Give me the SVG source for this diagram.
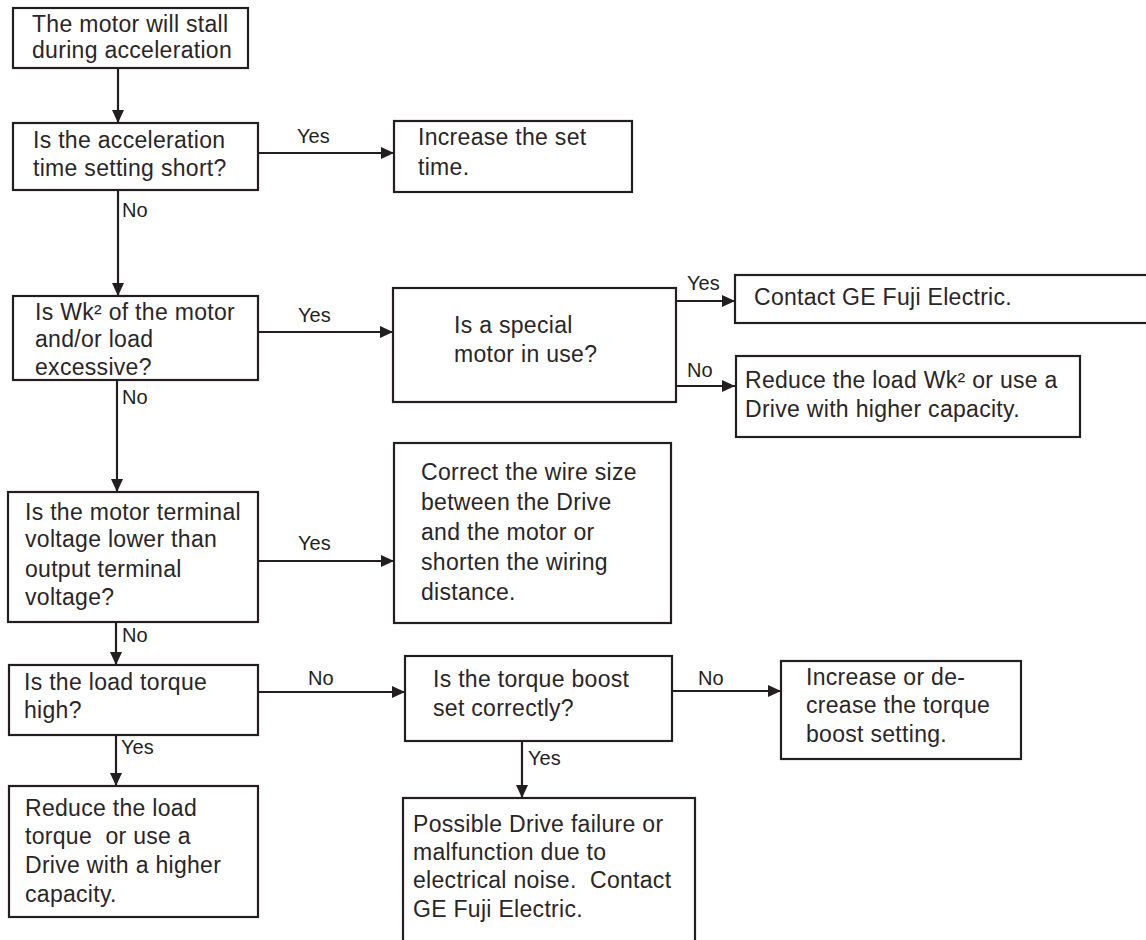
<svg xmlns="http://www.w3.org/2000/svg" width="1146" height="940" viewBox="0 0 1146 940">
<style>
.box{fill:#fff;stroke:#231f20;stroke-width:2.2}
.t{font-family:"Liberation Sans",Arial,sans-serif;font-size:23px;fill:#2a2627;letter-spacing:0.3px;white-space:pre}
.lbl{font-family:"Liberation Sans",Arial,sans-serif;font-size:20px;fill:#231f20}
.c{fill:none;stroke:#231f20;stroke-width:2.2}
</style>
<defs>
<marker id="ah" markerUnits="userSpaceOnUse" markerWidth="13" markerHeight="12" refX="13" refY="6" orient="auto">
<path d="M0,0 L13,6 L0,12 z" fill="#231f20"/>
</marker>
</defs>
<rect width="1146" height="940" fill="#fff"/>
<g id="connectors">
<path class="c" d="M118,68 V123" marker-end="url(#ah)"/>
<path class="c" d="M258,153 H394" marker-end="url(#ah)"/>
<path class="c" d="M118,190 V296" marker-end="url(#ah)"/>
<path class="c" d="M258,332 H393" marker-end="url(#ah)"/>
<path class="c" d="M676,301 H735" marker-end="url(#ah)"/>
<path class="c" d="M676,386 H735" marker-end="url(#ah)"/>
<path class="c" d="M117,380 V492" marker-end="url(#ah)"/>
<path class="c" d="M258,561 H394" marker-end="url(#ah)"/>
<path class="c" d="M116,622 V665" marker-end="url(#ah)"/>
<path class="c" d="M258,692 H405" marker-end="url(#ah)"/>
<path class="c" d="M672,691 H781" marker-end="url(#ah)"/>
<path class="c" d="M116,735 V786" marker-end="url(#ah)"/>
<path class="c" d="M522,741 V798" marker-end="url(#ah)"/>
<text class="lbl" x="297" y="143">Yes</text>
<text class="lbl" x="122" y="217">No</text>
<text class="lbl" x="298" y="322">Yes</text>
<text class="lbl" x="687" y="290">Yes</text>
<text class="lbl" x="687" y="377">No</text>
<text class="lbl" x="122" y="404">No</text>
<text class="lbl" x="298" y="550">Yes</text>
<text class="lbl" x="122" y="642">No</text>
<text class="lbl" x="308" y="685">No</text>
<text class="lbl" x="698" y="685">No</text>
<text class="lbl" x="121" y="754">Yes</text>
<text class="lbl" x="528" y="765">Yes</text>
</g>
<g id="start">
<rect class="box" x="13" y="8" width="235" height="60"/>
<text class="t" x="32" y="32">The motor will stall</text>
<text class="t" x="32" y="58">during acceleration</text>
</g>
<g id="accel-short">
<rect class="box" x="13" y="123" width="245" height="67"/>
<text class="t" x="33" y="148">Is the acceleration</text>
<text class="t" x="33" y="176">time setting short?</text>
</g>
<g id="increase-time">
<rect class="box" x="394" y="121" width="238" height="71"/>
<text class="t" x="418" y="145">Increase the set</text>
<text class="t" x="418" y="175">time.</text>
</g>
<g id="wk2-excessive">
<rect class="box" x="13" y="296" width="245" height="84"/>
<text class="t" x="35" y="320">Is Wk² of the motor</text>
<text class="t" x="35" y="347">and/or load</text>
<text class="t" x="35" y="375">excessive?</text>
</g>
<g id="special-motor">
<rect class="box" x="393" y="288" width="283" height="114"/>
<text class="t" x="454" y="333">Is a special</text>
<text class="t" x="454" y="362">motor in use?</text>
</g>
<g id="contact-ge">
<rect class="box" x="735" y="275" width="450" height="48"/>
<text class="t" x="754" y="305">Contact GE Fuji Electric.</text>
</g>
<g id="reduce-wk2">
<rect class="box" x="736" y="356" width="344" height="81"/>
<text class="t" x="745" y="388">Reduce the load Wk² or use a</text>
<text class="t" x="745" y="417">Drive with higher capacity.</text>
</g>
<g id="terminal-voltage">
<rect class="box" x="8" y="492" width="250" height="130"/>
<text class="t" x="25" y="520">Is the motor terminal</text>
<text class="t" x="25" y="547">voltage lower than</text>
<text class="t" x="25" y="577">output terminal</text>
<text class="t" x="25" y="605">voltage?</text>
</g>
<g id="correct-wire">
<rect class="box" x="394" y="443" width="277" height="180"/>
<text class="t" x="421" y="480">Correct the wire size</text>
<text class="t" x="421" y="510">between the Drive</text>
<text class="t" x="421" y="540">and the motor or</text>
<text class="t" x="421" y="570">shorten the wiring</text>
<text class="t" x="421" y="600">distance.</text>
</g>
<g id="load-torque">
<rect class="box" x="9" y="665" width="249" height="70"/>
<text class="t" x="24" y="690">Is the load torque</text>
<text class="t" x="24" y="718">high?</text>
</g>
<g id="torque-boost">
<rect class="box" x="405" y="656" width="267" height="85"/>
<text class="t" x="433" y="687">Is the torque boost</text>
<text class="t" x="433" y="716">set correctly?</text>
</g>
<g id="adjust-boost">
<rect class="box" x="781" y="661" width="240" height="98"/>
<text class="t" x="806" y="685">Increase or de-</text>
<text class="t" x="806" y="713">crease the torque</text>
<text class="t" x="806" y="742">boost setting.</text>
</g>
<g id="reduce-torque">
<rect class="box" x="9" y="786" width="249" height="131"/>
<text class="t" x="25" y="816">Reduce the load</text>
<text class="t" x="25" y="844">torque  or use a</text>
<text class="t" x="25" y="873">Drive with a higher</text>
<text class="t" x="25" y="902">capacity.</text>
</g>
<g id="drive-failure">
<rect class="box" x="403" y="798" width="292" height="160"/>
<text class="t" x="413" y="832">Possible Drive failure or</text>
<text class="t" x="413" y="860">malfunction due to</text>
<text class="t" x="413" y="888">electrical noise.  Contact</text>
<text class="t" x="413" y="917">GE Fuji Electric.</text>
</g>
</svg>
